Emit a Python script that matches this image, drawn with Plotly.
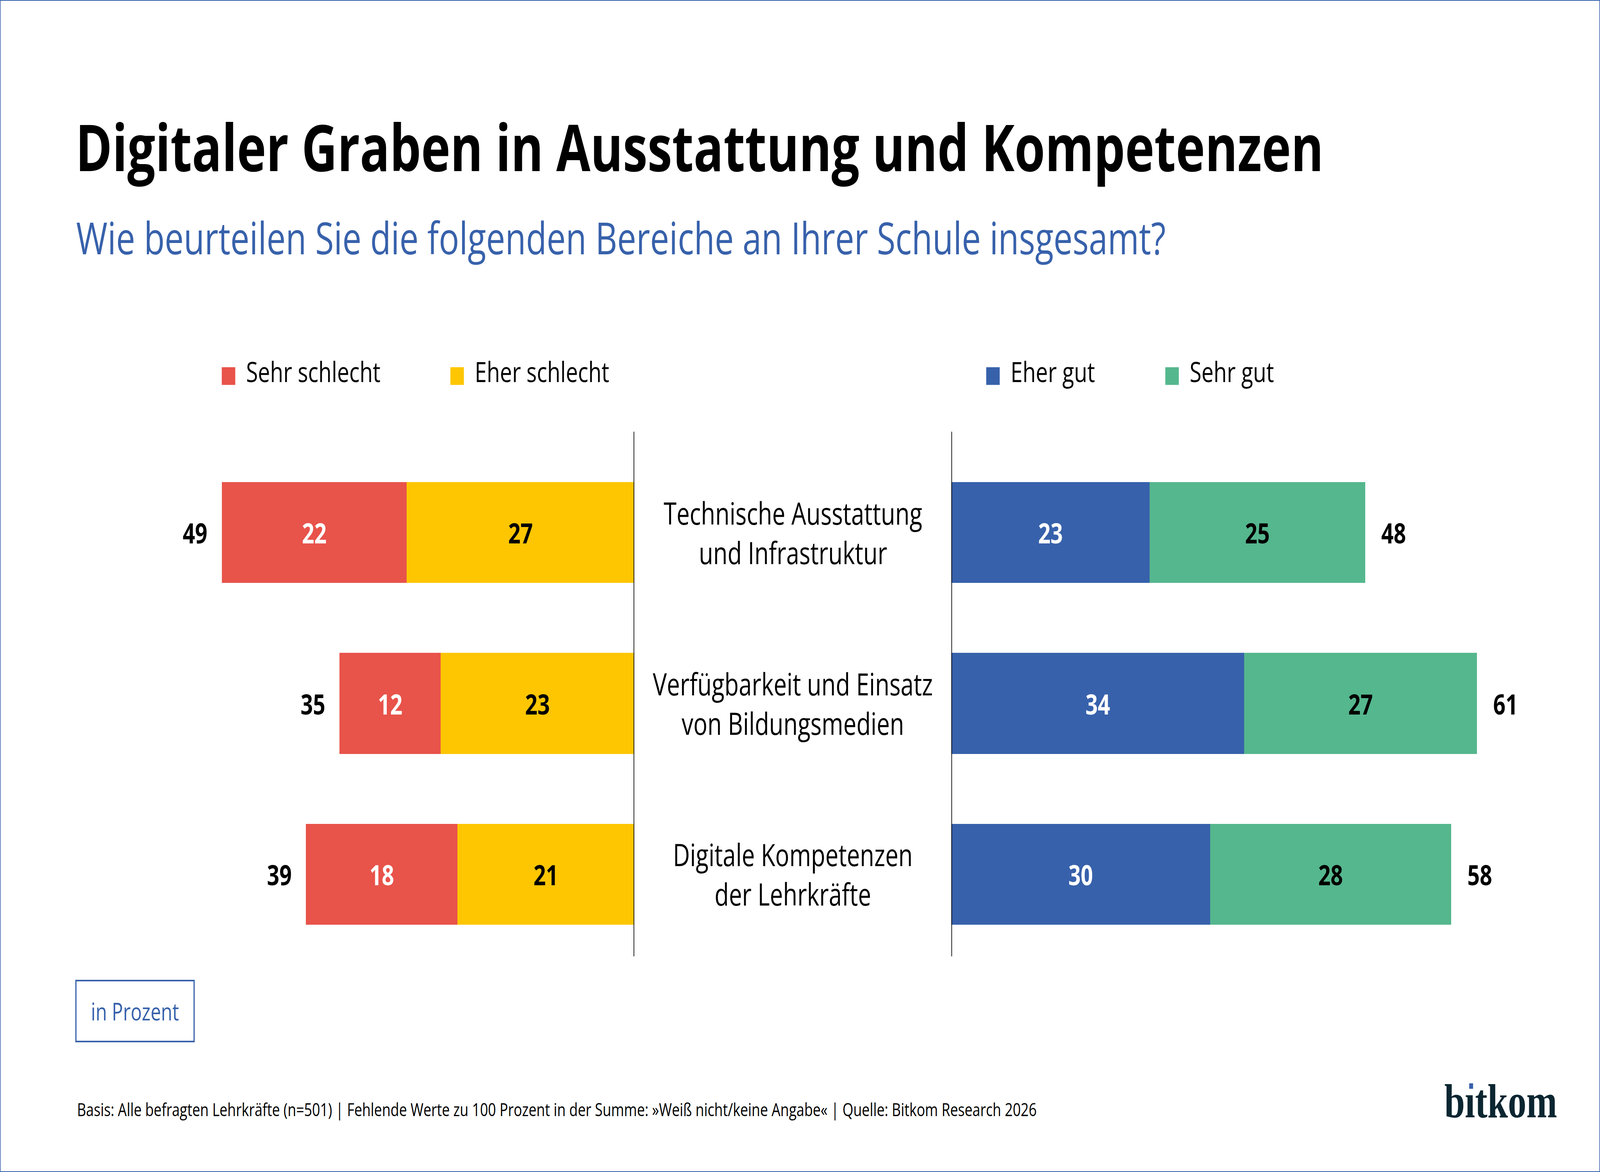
import plotly.graph_objects as go

# design coordinates are in reference pixels (5333 x 3000)
W, H = 5333, 3000

# ---------------- data ----------------
categories = [
    "Technische Ausstattung<br>und Infrastruktur",
    "Verfügbarkeit und Einsatz<br>von Bildungsmedien",
    "Digitale Kompetenzen<br>der Lehrkräfte",
]
series_names = ["Sehr schlecht", "Eher schlecht", "Eher gut", "Sehr gut"]
sehr_schlecht = [22, 12, 18]
eher_schlecht = [27, 23, 21]
eher_gut = [23, 34, 30]
sehr_gut = [25, 27, 28]

title_text = "Digitaler Graben in Ausstattung und Kompetenzen"
subtitle_text = "Wie beurteilen Sie die folgenden Bereiche an Ihrer Schule insgesamt?"
unit_text = "in Prozent"
footer_text = ("Basis: Alle befragten Lehrkräfte (n=501) | Fehlende Werte zu 100 Prozent in der Summe: "
               "»Weiß nicht/keine Angabe« | Quelle: Bitkom Research 2026")

# ---------------- style ----------------
RED = "#E8534A"
YELLOW = "#FDC600"
BLUE = "#3761AB"
GREEN = "#55B78E"
FONT = "Open Sans"


def px(x):
    return x / W


def py(y):
    return 1 - y / H


neg_total = [a + b for a, b in zip(sehr_schlecht, eher_schlecht)]
pos_total = [a + b for a, b in zip(eher_gut, sehr_gut)]

fig = go.Figure()

bar_common = dict(orientation="h", width=0.59, textposition="inside",
                  insidetextanchor="middle", constraintext="none",
                  cliponaxis=False, showlegend=False, texttemplate="%{x}",
                  marker_line_width=0, hoverinfo="skip")
VAL = 72

fig.add_trace(go.Bar(y=categories, x=eher_schlecht, name=series_names[1],
                     marker_color=YELLOW, xaxis="x", yaxis="y",
                     textfont=dict(family=FONT, size=VAL, color="black", weight=700),
                     **bar_common))
fig.add_trace(go.Bar(y=categories, x=sehr_schlecht, name=series_names[0],
                     marker_color=RED, xaxis="x", yaxis="y",
                     textfont=dict(family=FONT, size=VAL, color="white", weight=700),
                     **bar_common))
fig.add_trace(go.Bar(y=categories, x=eher_gut, name=series_names[2],
                     marker_color=BLUE, xaxis="x2", yaxis="y",
                     textfont=dict(family=FONT, size=VAL, color="white", weight=700),
                     **bar_common))
fig.add_trace(go.Bar(y=categories, x=sehr_gut, name=series_names[3],
                     marker_color=GREEN, xaxis="x2", yaxis="y",
                     textfont=dict(family=FONT, size=VAL, color="black", weight=700),
                     **bar_common))

# legend entries (square glyph drawn in series colour)
legend_colors = [RED, YELLOW, BLUE, GREEN]
legend_ids = ["legend", "legend", "legend2", "legend2"]
for name, col, lg in zip(series_names, legend_colors, legend_ids):
    fig.add_trace(go.Scatter(
        x=[None], y=[None], mode="markers", marker=dict(opacity=0, size=1),
        name=(f"<span style='font-family:DejaVu Sans;font-size:59px;color:{col}'>■\u2009</span>"
              f" {name}"),
        legend=lg, showlegend=True, hoverinfo="skip"))

annotations = []
# totals
for cat, tot in zip(categories, neg_total):
    annotations.append(dict(x=tot, y=cat, xref="x", yref="y", text=str(tot),
                            xanchor="right", yanchor="middle", xshift=-46,
                            showarrow=False,
                            font=dict(family=FONT, size=VAL, color="black", weight=700)))
for cat, tot in zip(categories, pos_total):
    annotations.append(dict(x=tot, y=cat, xref="x2", yref="y", text=str(tot),
                            xanchor="left", yanchor="middle", xshift=52,
                            showarrow=False,
                            font=dict(family=FONT, size=VAL, color="black", weight=700)))
# category labels in the middle
for cat in categories:
    annotations.append(dict(x=px((2114 + 3171) / 2), y=cat, xref="paper", yref="y",
                            text=cat, xanchor="center", yanchor="middle", align="center",
                            showarrow=False,
                            font=dict(family=FONT, size=78, color="black")))
# title, subtitle, footer, unit, logo
annotations += [
    dict(x=px(250), y=py(374), xref="paper", yref="paper", text=title_text,
         xanchor="left", yanchor="middle", showarrow=False,
         font=dict(family=FONT, size=165, color="black", weight=700)),
    dict(x=px(252), y=py(607), xref="paper", yref="paper", text=subtitle_text,
         xanchor="left", yanchor="middle", showarrow=False,
         font=dict(family=FONT, size=113, color=BLUE)),
    dict(x=px(254), y=py(2839), xref="paper", yref="paper", text=footer_text,
         xanchor="left", yanchor="middle", showarrow=False,
         font=dict(family=FONT, size=46.5, color="black")),
    dict(x=px(450), y=py(2588), xref="paper", yref="paper", text=unit_text,
         xanchor="center", yanchor="middle", showarrow=False,
         font=dict(family=FONT, size=62, color=BLUE)),
    dict(x=px(4812), y=py(2818), xref="paper", yref="paper", text="bıtkom",
         xanchor="left", yanchor="middle", showarrow=False,
         font=dict(family="Liberation Serif", size=123, color="#0B2631", weight=700)),
]

shapes = [
    # outer frame
    dict(type="rect", xref="paper", yref="paper", x0=0, x1=1, y0=0, y1=1,
         line=dict(color=BLUE, width=4), fillcolor="rgba(0,0,0,0)", layer="above"),
    # centre lines
    dict(type="line", xref="x", yref="y", x0=0, x1=0, y0=-0.59, y1=2.48,
         line=dict(color="black", width=4.5), layer="above"),
    dict(type="line", xref="x2", yref="y", x0=0, x1=0, y0=-0.59, y1=2.48,
         line=dict(color="black", width=4.5), layer="above"),
    # unit box
    dict(type="rect", xref="paper", yref="paper", x0=px(253), x1=px(647),
         y0=py(2666), y1=py(2510), line=dict(color=BLUE, width=4)),
    # logo dot
    dict(type="rect", xref="paper", yref="paper", x0=px(4897), x1=px(4910),
         y0=py(2787), y1=py(2773), line=dict(width=0), fillcolor=BLUE),
]

legend_common = dict(orientation="h", xanchor="left", yanchor="middle",
                     font=dict(family=FONT, size=72, color="black"),
                     bgcolor="rgba(0,0,0,0)", itemwidth=30, traceorder="normal",
                     entrywidthmode="pixels", itemclick=False, itemdoubleclick=False)

fig.update_layout(
    width=W, height=H,
    margin=dict(l=0, r=0, t=0, b=0),
    paper_bgcolor="white", plot_bgcolor="white",
    barmode="stack", bargap=0,
    showlegend=True,
    legend=dict(x=px(694), y=py(950), entrywidth=717, **legend_common),
    legend2=dict(x=px(3242), y=py(950), entrywidth=552, **legend_common),
    xaxis=dict(domain=[px(150), px(2114)], range=[70, 0], visible=False,
               anchor="y", fixedrange=True),
    xaxis2=dict(domain=[px(3171), px(3171 + 70 * 28.72)], range=[0, 70], visible=False,
                anchor="y", fixedrange=True),
    yaxis=dict(domain=[py(2566), py(1035)], type="category",
               categoryorder="array", categoryarray=categories,
               range=[2.75, -0.75], visible=False, fixedrange=True),
    annotations=annotations,
    shapes=shapes,
    font=dict(family=FONT),
)

# fit the 5333x3000 figure into whatever viewport the page is shown in
fit_js = """
var gd = document.getElementById('{plot_id}');
document.documentElement.style.margin='0';
document.documentElement.style.overflow='hidden';
document.body.style.margin='0';
document.body.style.overflow='hidden';
var vw = window.innerWidth, vh = window.innerHeight;
var sx = vw / 5333, sy = vh / 3000;
gd.style.transformOrigin = '0 0';
gd.style.transform = 'scale(' + sx + ',' + sy + ')';
"""

fig.write_html("out.html", config={"displayModeBar": False}, post_script=fit_js)
